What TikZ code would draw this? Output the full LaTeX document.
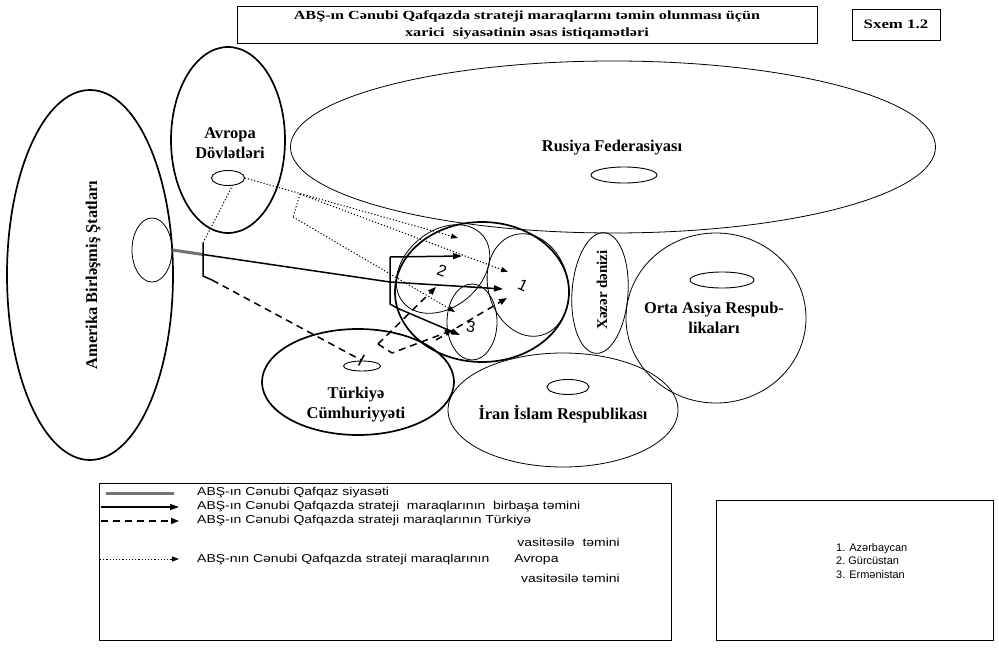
\documentclass[tikz,border=0pt]{standalone}
\usepackage{fontspec}
\setmainfont{Liberation Serif}
\newfontfamily\headfont[FakeStretch=1.3]{Liberation Serif}
\newfontfamily\legfont[FakeStretch=1.22]{Liberation Sans}
\newfontfamily\keyfont{Liberation Sans}
\newfontfamily\numfont{Liberation Sans}
\usetikzlibrary{arrows.meta,shapes.geometric}
\begin{document}
\begin{tikzpicture}[x=1bp,y=-1bp,
  heavy/.style={ellipse,draw,line width=1.7bp,inner sep=0pt},
  light/.style={ellipse,draw,line width=0.8bp,inner sep=0pt},
  tiny/.style={ellipse,draw,line width=0.9bp,inner sep=0pt},
  region/.style={font=\bfseries\fontsize{16.5}{20}\selectfont,align=center,inner sep=0pt},
  num/.style={font=\numfont\fontsize{16}{16}\selectfont,inner sep=0pt},
  solidline/.style={line width=1.5bp},
  direct/.style={line width=1.5bp,-{Triangle[length=9bp,width=6bp]}},
  dashline/.style={line width=1.5bp,dash pattern=on 7bp off 5bp},
  viaturkey/.style={dashline,-{Triangle[length=8bp,width=6bp]}},
  viaturkeybar/.style={dashline,-{Bar[width=12bp,line width=1.5bp]}},
  dotline/.style={line width=1bp,dash pattern=on 1.2bp off 2bp},
  viaeurope/.style={dotline,-{Triangle[length=7bp,width=5bp]}},
  policy/.style={line width=3bp,draw=black!55},
  legtext/.style={font=\legfont\fontsize{11.5}{14}\selectfont,anchor=west,inner sep=0pt},
  keytext/.style={font=\keyfont\fontsize{11}{13.5}\selectfont,anchor=west,inner sep=0pt},
]
\useasboundingbox (0,0) rectangle (999,649);

% heading boxes
\node[draw,line width=0.8bp,minimum width=580bp,minimum height=37bp,align=center,
      font=\headfont\bfseries\fontsize{12.5}{17}\selectfont] (title) at (527,24.5)
  {ABŞ-ın Cənubi Qafqazda strateji maraqlarını təmin olunması üçün\\xarici\ \ siyasətinin əsas istiqamətləri};
\node[draw,line width=0.8bp,minimum width=88bp,minimum height=31bp,
      font=\headfont\bfseries\fontsize{13}{14}\selectfont] (sxem) at (896,24.5) {Sxem 1.2};

% regions
\node[light,minimum width=645bp,minimum height=172bp] (ru) at (613,147) {};
\node[tiny,minimum width=66bp,minimum height=16bp] (ruhub) at (624,175) {};
\node[region] (rulbl) at (612,148) {Rusiya Federasiyası};

\node[heavy,minimum width=166bp,minimum height=370bp] (usa) at (90,275) {};
\node[light,minimum width=40bp,minimum height=64bp] (usahub) at (152,250) {};
\node[region,rotate=90] (usalbl) at (93,275) {Amerika Birləşmiş Ştatları};

\node[heavy,minimum width=114bp,minimum height=186bp] (eu) at (228,140) {};
\node[tiny,minimum width=33bp,minimum height=15bp] (euhub) at (228,178) {};
\node[region] (eulbl) at (230,143) {Avropa\\Dövlətləri};

\node[heavy,minimum width=192bp,minimum height=106bp] (tr) at (358,382) {};
\node[tiny,minimum width=37bp,minimum height=10bp] (trhub) at (362,366) {};
\node[region] (trlbl) at (356,405) {Türkiyə\\Cümhuriyyəti};

\node[light,minimum width=230bp,minimum height=114bp] (ir) at (563,410) {};
\node[tiny,minimum width=42bp,minimum height=15bp] (irhub) at (568,387) {};
\node[region] (irlbl) at (563,414) {İran İslam Respublikası};

\node[light,minimum width=180bp,minimum height=170bp] (ca) at (716,318) {};
\node[tiny,minimum width=64bp,minimum height=16bp] (cahub) at (722,280) {};
\node[region] (calbl) at (714,318) {Orta Asiya Respub-\\likaları};

\node[light,minimum width=56bp,minimum height=121bp,rotate=-4] (sea) at (600,293) {};
\node[region,font=\bfseries\fontsize{15}{16}\selectfont,rotate=90] (sealbl) at (602,290) {Xəzər dənizi};

% South Caucasus
\node[heavy,minimum width=174bp,minimum height=140bp] (sc) at (482,292) {};
\node[light,minimum width=104bp,minimum height=76bp,rotate=40] (ge) at (443,269) {};
\node[light,minimum width=80bp,minimum height=104bp,rotate=15] (az) at (528,285) {};
\node[light,minimum width=50bp,minimum height=76bp] (am) at (472,322) {};
\node[num,rotate=-25] (n1) at (523,285) {1};
\node[num,rotate=-20] (n2) at (442,271) {2};
\node[num,rotate=-10] (n3) at (471,327) {3};

% junction points of the routes
\coordinate (usfork) at (203,254.5);
\coordinate (usbrtop) at (203,243);
\coordinate (usbrbot) at (203,276);
\coordinate (usbrhook) at (212,280);
\coordinate (fork) at (390,282);
\coordinate (scbrtop) at (390,257);
\coordinate (scbrbot) at (390,304);
\coordinate (scbrhook) at (397,308);
\coordinate (gein) at (462,256);
\coordinate (azin) at (503,289);
\coordinate (amin) at (460,335);
\coordinate (trout) at (378,344);
\coordinate (trbend) at (392,353);
\coordinate (trmid) at (436,340);
\coordinate (getr) at (436,287);
\coordinate (amtr) at (453,330);
\coordinate (aztr) at (507,298);
\coordinate (eubrtop) at (300,194);
\coordinate (eubrbot) at (293,217);
\coordinate (geeu) at (458,238);
\coordinate (azeu) at (508,272);
\coordinate (ameu) at (455,312);

% direct route
\draw[policy] (usahub.east) -- (usfork);
\draw[solidline] (usfork) -- (fork);
\draw[solidline] (usbrtop) -- (usbrbot) -- (usbrhook);
\draw[solidline] (scbrtop) -- (scbrbot) -- (scbrhook);
\draw[direct] (scbrtop) -- (gein);
\draw[direct] (fork) -- (azin);
\draw[direct] (scbrhook) -- (amin);

% route through Turkey
\draw[viaturkeybar] (usbrhook) -- (trhub.north);
\draw[viaturkey] (trout) -- (getr);
\draw[viaturkey] (trout) -- (trbend) -- (amtr);
\draw[viaturkey] (trmid) -- (aztr);

% route through Europe
\draw[dotline] (usbrtop) -- (euhub.-60);
\draw[viaeurope] (euhub.east) -- (geeu);
\draw[dotline] (eubrtop) -- (eubrbot);
\draw[viaeurope] (eubrtop) -- (azeu);
\draw[viaeurope] (eubrbot) -- (ameu);

% legend
\node[draw,line width=0.8bp,minimum width=572bp,minimum height=157bp,anchor=north west] (legend) at (99,483) {};
\coordinate (s1a) at (106,493); \coordinate (s1b) at (174,493);
\coordinate (s2a) at (101,507); \coordinate (s2b) at (179,507);
\coordinate (s3a) at (101,521); \coordinate (s3b) at (179,521);
\coordinate (s4a) at (100,559); \coordinate (s4b) at (179,559);
\draw[policy] (s1a) -- (s1b);
\draw[direct] (s2a) -- (s2b);
\draw[viaturkey] (s3a) -- (s3b);
\draw[viaeurope] (s4a) -- (s4b);
\node[legtext] (l1) at (197,493) {ABŞ-ın Cənubi Qafqaz siyasəti};
\node[legtext] (l2) at (197,507) {ABŞ-ın Cənubi Qafqazda strateji\ \ maraqlarının\ \ birbaşa təmini};
\node[legtext] (l3) at (197,521) {ABŞ-ın Cənubi Qafqazda strateji maraqlarının Türkiyə};
\node[legtext,anchor=east] (l3b) at (620,542) {vasitəsilə\ \ təmini};
\node[legtext] (l4) at (197,560) {ABŞ-nın Cənubi Qafqazda strateji maraqlarının\hspace{2.2em}Avropa};
\node[legtext,anchor=east] (l4b) at (620,578) {vasitəsilə təmini};

\node[draw,line width=0.8bp,minimum width=277bp,minimum height=140bp,anchor=north west] (key) at (716,500) {};
\node[keytext,align=left] (keylist) at (836,561) {1. Azərbaycan\\2.\ Gürcüstan\\3. Ermənistan};
\end{tikzpicture}
\end{document}
